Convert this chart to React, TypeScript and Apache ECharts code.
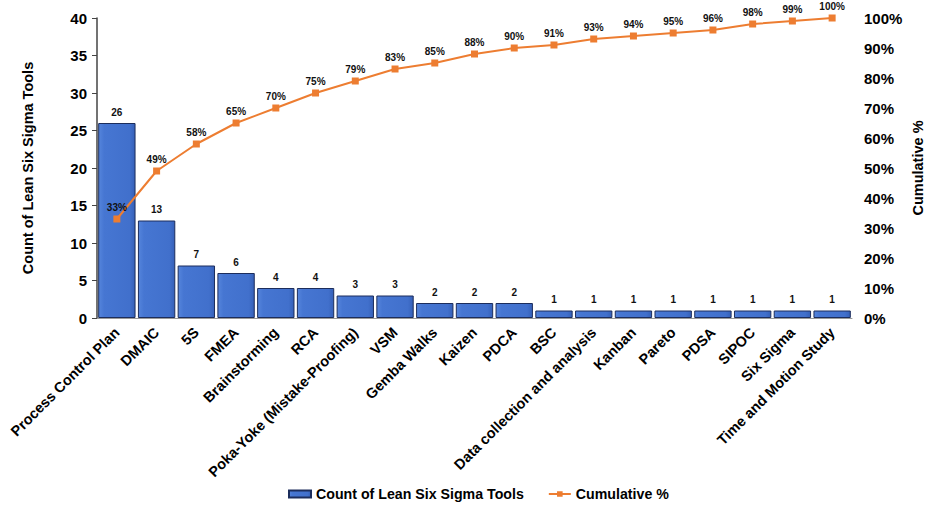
import React, { useEffect, useRef } from "react";
import * as echarts from "echarts";

const categories = [
  "Process Control Plan", "DMAIC", "5S", "FMEA", "Brainstorming", "RCA",
  "Poka-Yoke (Mistake-Proofing)", "VSM", "Gemba Walks", "Kaizen", "PDCA", "BSC",
  "Data collection and analysis", "Kanban", "Pareto", "PDSA", "SIPOC", "Six Sigma",
  "Time and Motion Study",
];
const counts = [26, 13, 7, 6, 4, 4, 3, 3, 2, 2, 2, 1, 1, 1, 1, 1, 1, 1, 1];
const cumulative = [33, 49, 58, 65, 70, 75, 79, 83, 85, 88, 90, 91, 93, 94, 95, 96, 98, 99, 100];
const leftTicks = { min: 0, max: 40, interval: 5 };
const rightTicks = { min: 0, max: 100, interval: 10 };

const FONT = "'Liberation Sans', Arial, sans-serif";

export default function App() {
  const ref = useRef<HTMLDivElement>(null);
  useEffect(() => {
    if (!ref.current) return;
    const chart = echarts.init(ref.current, undefined, { renderer: "svg" });
    const barColor = new echarts.graphic.LinearGradient(0, 0, 1, 0, [
      { offset: 0, color: "#5585dc" },
      { offset: 0.15, color: "#4676d2" },
      { offset: 0.85, color: "#4170cc" },
      { offset: 1, color: "#3560b8" },
    ]);
    chart.setOption({
      animation: false,
      textStyle: { fontFamily: FONT },
      grid: {
        left: 97,
        right: 74,
        top: 18,
        bottom: 193,
        containLabel: false,
        outerBoundsMode: "none",
      },
      legend: {
        bottom: 5,
        left: 283,
        itemGap: 24,
        itemWidth: 22,
        itemHeight: 7,
        textStyle: { fontFamily: FONT, fontWeight: "bold", fontSize: 14.2, color: "#000" },
        data: [
          { name: "Count of Lean Six Sigma Tools", icon: "rect" },
          { name: "Cumulative %" },
        ],
      },
      xAxis: {
        type: "category",
        data: categories,
        axisLine: { show: true, lineStyle: { color: "#999", width: 1 } },
        axisTick: { show: false },
        axisLabel: {
          rotate: 45,
          interval: 0,
          margin: 12,
          fontFamily: FONT,
          fontWeight: "bold",
          fontSize: 14.5,
          color: "#000",
        },
      },
      yAxis: [
        {
          type: "value",
          min: leftTicks.min,
          max: leftTicks.max,
          interval: leftTicks.interval,
          name: "Count of Lean Six Sigma Tools",
          nameLocation: "middle",
          nameGap: 62,
          nameRotate: 90,
          nameMoveOverlap: false,
          nameTextStyle: { fontFamily: FONT, fontWeight: "bold", fontSize: 14.5, color: "#000" },
          axisLine: { show: true, lineStyle: { color: "#444", width: 1.5 } },
          axisTick: { show: true, length: 5, lineStyle: { color: "#444" } },
          splitLine: { show: false },
          axisLabel: { fontFamily: FONT, fontWeight: "bold", fontSize: 15, color: "#000", margin: 10 },
        },
        {
          type: "value",
          min: rightTicks.min,
          max: rightTicks.max,
          interval: rightTicks.interval,
          name: "Cumulative %",
          nameLocation: "middle",
          nameGap: 58,
          nameRotate: 90,
          nameMoveOverlap: false,
          nameTextStyle: { fontFamily: FONT, fontWeight: "bold", fontSize: 14.5, color: "#000" },
          axisLine: { show: false },
          axisTick: { show: false },
          splitLine: { show: false },
          axisLabel: {
            fontFamily: FONT,
            fontWeight: "bold",
            fontSize: 15,
            color: "#000",
            margin: 12,
            formatter: "{value}%",
          },
        },
      ],
      series: [
        {
          name: "Count of Lean Six Sigma Tools",
          type: "bar",
          data: counts,
          barCategoryGap: "6%",
          itemStyle: { color: barColor, borderColor: "#1c2d5c", borderWidth: 1 },
          label: {
            show: true,
            position: "top",
            distance: 6,
            fontFamily: FONT,
            fontWeight: "bold",
            fontSize: 10,
            color: "#111",
          },
        },
        {
          name: "Cumulative %",
          type: "line",
          yAxisIndex: 1,
          data: cumulative,
          symbol: "rect",
          symbolSize: 7,
          lineStyle: { color: "#ED7D31", width: 2 },
          itemStyle: { color: "#ED7D31" },
          label: {
            show: true,
            position: "top",
            distance: 3,
            fontFamily: FONT,
            fontWeight: "bold",
            fontSize: 10,
            color: "#111",
            formatter: "{c}%",
          },
        },
      ],
    });
    return () => chart.dispose();
  }, []);
  return (
    <div
      ref={ref}
      style={{ position: "absolute", left: 0, top: 0, width: 926, height: 511, background: "#fff" }}
    />
  );
}
